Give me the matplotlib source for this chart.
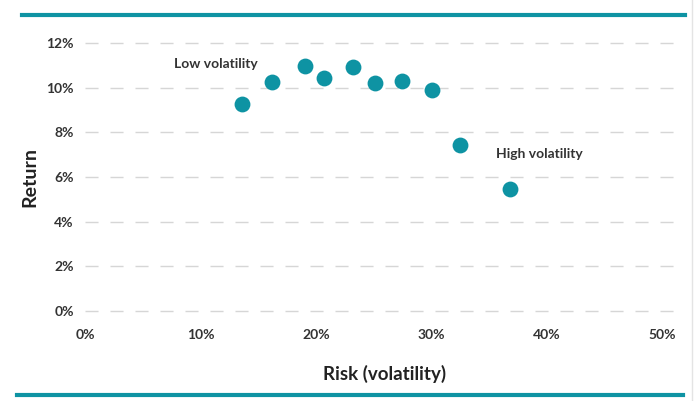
# Risk vs return scatter
import matplotlib.pyplot as plt
from matplotlib.lines import Line2D
from matplotlib.ticker import FuncFormatter

plt.rcParams['font.family'] = ['Lato', 'DejaVu Sans']

# data (percent)
risk = [13.6, 16.2, 19.1, 20.7, 23.2, 25.1, 27.5, 30.1, 32.5, 36.8]
ret = [9.27, 10.25, 10.97, 10.43, 10.93, 10.2, 10.3, 9.9, 7.43, 5.46]
x_ticks = [0, 10, 20, 30, 40, 50]
y_ticks = [0, 2, 4, 6, 8, 10, 12]

teal = '#0e93a3'
txt = '#333333'

fig = plt.figure(figsize=(7, 4.01), dpi=100)
ax = fig.add_axes([85/700, 0.1965, 600/700, 0.724])

ax.scatter(risk, ret, s=130, color=teal, zorder=3, linewidths=0)

ax.set_xlim(0, 52)
ax.set_ylim(-0.5, 12.5)
ax.set_xticks(x_ticks)
ax.set_yticks(y_ticks)
pct = FuncFormatter(lambda v, p: '%d%%' % v)
ax.xaxis.set_major_formatter(pct)
ax.yaxis.set_major_formatter(pct)
ax.tick_params(length=0, labelsize=10, labelcolor=txt)
ax.tick_params(axis='y', pad=8)
ax.tick_params(axis='x', pad=5)
for lab in ax.get_xticklabels() + ax.get_yticklabels():
    lab.set_fontweight('bold')

# dashed horizontal guides
ax.grid(True, axis='y', color='#d6d6d6', linestyle=(0, (9.4, 8.6)), linewidth=1)
for s in ax.spines.values():
    s.set_visible(False)

ax.set_xlabel('Risk (volatility)', fontsize=13.5, color='#222222', labelpad=17,
              fontweight='bold')
ax.set_ylabel('Return', fontsize=14, color='#222222', labelpad=6,
              fontweight='bold')

ax.text(15.0, 11.06, 'Low volatility', ha='right', va='center', fontsize=10,
        fontweight='bold', color=txt)
ax.text(35.6, 7.03, 'High volatility', ha='left', va='center', fontsize=10,
        fontweight='bold', color=txt)

# teal rules top and bottom, thin border on right
fig.add_artist(Line2D([22/700, 685/700], [1 - 15/401] * 2, color=teal, lw=3))
fig.add_artist(Line2D([17/700, 683/700], [1 - 395/401] * 2, color=teal, lw=3))
fig.add_artist(Line2D([692/700] * 2, [0, 1], color='#e4e4e4', lw=1))

fig.savefig('out.png', dpi=100)
